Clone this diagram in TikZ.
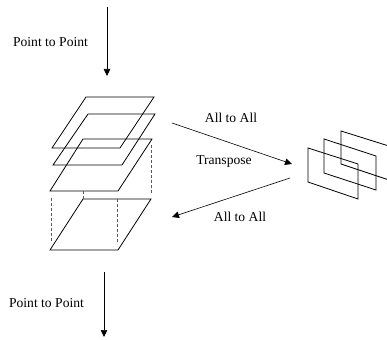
\documentclass[tikz,border=0pt]{standalone}
\usepackage{fontspec}
\setmainfont{Liberation Serif}
\usetikzlibrary{arrows.meta}
\tikzset{flow/.style={line width=.6pt, -{Triangle[length=7pt,width=6.5pt]}}}
\tikzset{sheet/.style={line width=.8pt}}
\tikzset{hidden/.style={line width=.9pt, dash pattern=on 3pt off 2pt, black!65}}
\tikzset{lbl/.style={font=\fontsize{13.6}{16}\selectfont, inner sep=0pt}}

\begin{document}
\begin{tikzpicture}[x=1pt, y=-1pt]
\useasboundingbox (0,0) rectangle (387,339);
\clip (0,0) rectangle (387,339);

% incoming data
\coordinate (in top) at (107,7);
\coordinate (in tip) at (107,76);
\draw[flow] (in top) -- (in tip);
\node[lbl] (ptp in) at (50.5,42) {Point to Point};

% stack of horizontal slabs
\draw[sheet] (86,97) -- (154,97) -- (120,148) -- (52,148) -- cycle;
\draw[sheet] (88,114) -- (155,114) -- (122,165) -- (53,165) -- cycle;
\draw[sheet] (83,139) -- (152,139) -- (118,191) -- (50,191) -- cycle;
\draw[sheet] (83,199) -- (151,199) -- (118,250) -- (50,250) -- cycle;

\draw[hidden] (51,198) -- (51,243);
\draw[hidden] (83,191) -- (83,199);
\draw[hidden] (117,199) -- (117,243);
\draw[hidden] (151,145) -- (151,193);

% transposed slabs
\draw[sheet] (308,148) -- (358,164) -- (358,199) -- (308,182) -- cycle;
\draw[sheet] (324,139) -- (376,156) -- (376,190) -- (324,173) -- cycle;
\draw[sheet] (341,131) -- (392,147) -- (392,181) -- (341,164) -- cycle;

% there and back
\coordinate (go start) at (172,123);
\coordinate (go tip) at (292,164);
\draw[flow] (go start) -- (go tip);
\coordinate (back start) at (290,178);
\coordinate (back tip) at (172,217);
\draw[flow] (back start) -- (back tip);
\node[lbl] (ata go) at (231,118) {All to All};
\node[lbl] (tr) at (224,161) {Transpose};
\node[lbl] (ata back) at (240,217) {All to All};

% outgoing data
\coordinate (out top) at (104,272);
\coordinate (out tip) at (104,337);
\draw[flow] (out top) -- (out tip);
\node[lbl] (ptp out) at (46.5,303) {Point to Point};

\end{tikzpicture}
\end{document}
